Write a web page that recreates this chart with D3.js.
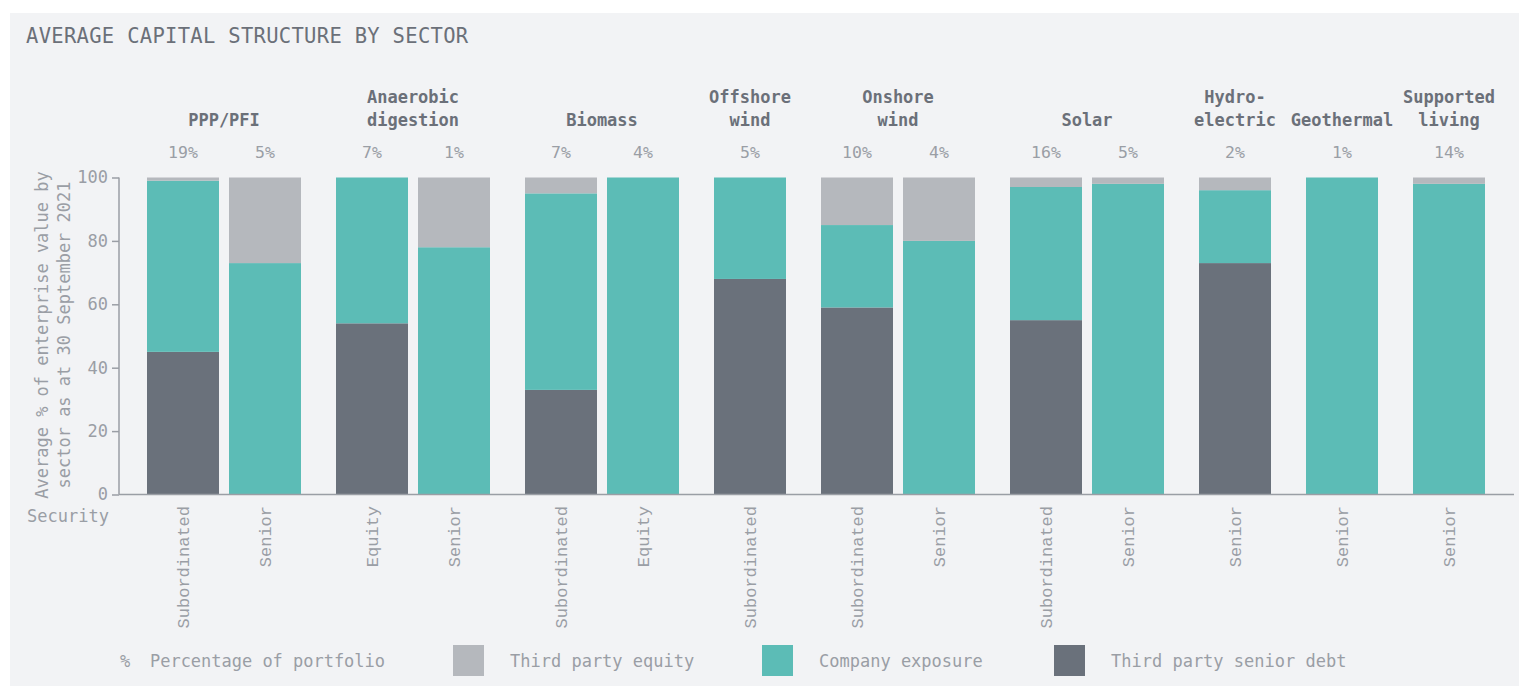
<!DOCTYPE html>
<html>
<head>
<meta charset="utf-8">
<script src="https://cdn.jsdelivr.net/npm/d3@7"></script>
<style>
  body { margin: 0; background: #ffffff; }
  svg { display: block; }
  .title { font-family: "DejaVu Sans Mono", monospace; font-size: 20.5px; fill: #6b7079; letter-spacing: 0.3px; }
  .sector { font-family: "DejaVu Sans Mono", monospace; font-size: 17px; font-weight: bold; fill: #6b7079; }
  .pct { font-family: "DejaVu Sans Mono", monospace; font-size: 16.5px; fill: #9a9ea5; }
  .axis text { font-family: "DejaVu Sans Mono", monospace; font-size: 17px; fill: #9a9ea5; }
  .axis path, .axis line { stroke: #9a9ea5; stroke-width: 1.5; }
  .xlab { font-family: "Liberation Mono", monospace; font-size: 17px; fill: #9a9ea5; }
  .ytitle { font-family: "DejaVu Sans Mono", monospace; font-size: 17px; fill: #9a9ea5; }
  .legend-names { font-family: "DejaVu Sans Mono", monospace; font-size: 17px; fill: #9a9ea5; }
</style>
</head>
<body>
<div id="chart"></div>
<script>
// sectors, with the securities held in each
var sectors = ["PPP/PFI", "Anaerobic digestion", "Biomass", "Offshore wind", "Onshore wind",
    "Solar", "Hydro-electric", "Geothermal", "Supported living"];
var sectorLines = [["PPP/PFI"], ["Anaerobic", "digestion"], ["Biomass"], ["Offshore", "wind"],
    ["Onshore", "wind"], ["Solar"], ["Hydro-", "electric"], ["Geothermal"], ["Supported", "living"]];

var barSector   = [0, 0, 1, 1, 2, 2, 3, 4, 4, 5, 5, 6, 7, 8];
var barSecurity = ["Subordinated", "Senior", "Equity", "Senior", "Subordinated", "Equity", "Subordinated",
    "Subordinated", "Senior", "Subordinated", "Senior", "Senior", "Senior", "Senior"];
var portfolioPct = ["19%", "5%", "7%", "1%", "7%", "4%", "5%", "10%", "4%", "16%", "5%", "2%", "1%", "14%"];

// stacked values, bottom to top
var seniorDebt      = [45,  0, 54,  0, 33,   0, 68, 59,  0, 55,  0, 73,   0,  0];
var companyExposure = [54, 73, 46, 78, 62, 100, 32, 26, 80, 42, 98, 23, 100, 98];
var thirdPartyEquity = [1, 27,  0, 22,  5,   0,  0, 15, 20,  3,  2,  4,   0,  2];

var seriesNames = ["Third party senior debt", "Company exposure", "Third party equity"];
var seriesColor = d3.scaleOrdinal()
    .domain(seriesNames)
    .range(["#6a717b", "#5cbcb6", "#b5b8bd"]);

var yTicks = [0, 20, 40, 60, 80, 100];

var width = 1519, height = 686;
var svg = d3.select("#chart").append("svg")
    .attr("width", width)
    .attr("height", height);

// panel background
svg.append("rect")
    .attr("x", 10).attr("y", 13)
    .attr("width", width - 10).attr("height", height - 13)
    .attr("fill", "#f2f3f5");

svg.append("text")
    .attr("class", "title")
    .attr("x", 26).attr("y", 43)
    .text("AVERAGE CAPITAL STRUCTURE BY SECTOR");

// each bar takes one slot, each sector adds a bit of padding
var slot = 82, groupPad = 25, barWidth = 72;
var rows = barSector.map(function(s, i) {
    return { i: i, sector: s, debt: seniorDebt[i], company: companyExposure[i], equity: thirdPartyEquity[i] };
});

var plotLeft = 129.5;
var totalPx = barSector.length * slot + sectors.length * groupPad;
var x = d3.scaleLinear()
    .domain([0, totalPx])
    .range([plotLeft, plotLeft + totalPx]);

function barX(i) {
    return x(i * slot + barSector[i] * groupPad + groupPad / 2 + (slot - barWidth) / 2);
}

var y = d3.scaleLinear()
    .domain([0, 100])
    .range([494.5, 177.5]);

var stack = d3.stack()
    .keys(["debt", "company", "equity"]);
var stacked = stack(rows);

var layer = svg.selectAll(".layer")
    .data(stacked)
    .enter().append("g")
    .attr("class", "layer")
    .attr("fill", function(d, i) { return seriesColor(seriesNames[i]); });

layer.selectAll("rect")
    .data(function(d) { return d; })
    .enter().append("rect")
    .attr("x", function(d) { return barX(d.data.i); })
    .attr("width", barWidth)
    .attr("y", function(d) { return y(d[1]); })
    .attr("height", function(d) { return y(d[0]) - y(d[1]); });

// axes
var yAxis = svg.append("g")
    .attr("class", "axis")
    .attr("transform", "translate(119,0)")
    .call(d3.axisLeft(y).tickValues(yTicks).tickSize(7).tickPadding(4));
yAxis.select(".domain").attr("d", "M0," + y(0) + "V" + y(100));

svg.append("line")
    .attr("x1", 119).attr("x2", 1514)
    .attr("y1", y(0)).attr("y2", y(0))
    .attr("stroke", "#9a9ea5").attr("stroke-width", 1.5);

svg.append("text")
    .attr("class", "ytitle")
    .attr("transform", "translate(48,335) rotate(-90)")
    .attr("text-anchor", "middle")
    .selectAll("tspan")
    .data(["Average % of enterprise value by", "sector as at 30 September 2021"])
    .enter().append("tspan")
    .attr("x", 0)
    .attr("dy", function(d, i) { return i ? 22 : 0; })
    .text(function(d) { return d; });

svg.append("text")
    .attr("class", "ytitle")
    .attr("x", 27).attr("y", 522)
    .text("Security");

// security labels under each bar
svg.selectAll(".xlab")
    .data(rows)
    .enter().append("text")
    .attr("class", "xlab")
    .attr("text-anchor", "end")
    .attr("transform", function(d) {
        return "translate(" + (barX(d.i) + barWidth / 2 + 6) + ",506) rotate(-90)";
    })
    .text(function(d) { return barSecurity[d.i]; });

// portfolio percentages
svg.selectAll(".pct")
    .data(rows)
    .enter().append("text")
    .attr("class", "pct")
    .attr("text-anchor", "middle")
    .attr("x", function(d) { return barX(d.i) + barWidth / 2; })
    .attr("y", 158)
    .text(function(d) { return portfolioPct[d.i]; });

// sector headings, centred over their bars
var sectorLabel = svg.selectAll(".sector")
    .data(sectors)
    .enter().append("text")
    .attr("class", "sector")
    .attr("text-anchor", "middle")
    .attr("transform", function(d, k) {
        var idx = barSector.map(function(s, i) { return s === k ? i : -1; }).filter(function(i) { return i >= 0; });
        var cx = (barX(idx[0]) + barX(idx[idx.length - 1]) + barWidth) / 2;
        return "translate(" + cx + "," + (126 - (sectorLines[k].length - 1) * 23) + ")";
    });

sectorLabel.selectAll("tspan")
    .data(function(d, k) { return sectorLines[k]; })
    .enter().append("tspan")
    .attr("x", 0)
    .attr("dy", function(d, i) { return i ? 23 : 0; })
    .text(function(d) { return d; });

// legend
svg.append("text")
    .attr("class", "legend-names")
    .attr("x", 120).attr("y", 667)
    .text("%");
svg.append("text")
    .attr("class", "legend-names")
    .attr("x", 150).attr("y", 667)
    .attr("textLength", 235)
    .text("Percentage of portfolio");

var legendItems = ["Third party equity", "Company exposure", "Third party senior debt"];
var legendX = [453, 762, 1054];

var legend = svg.selectAll(".legend")
    .data(legendItems)
    .enter().append("g")
    .attr("class", "legend")
    .attr("transform", function(d, i) { return "translate(" + legendX[i] + ",645)"; });

legend.append("rect")
    .attr("width", 31)
    .attr("height", 31)
    .style("fill", function(d) { return seriesColor(d); });

legend.append("text")
    .attr("class", "legend-names")
    .attr("x", 57)
    .attr("y", 22)
    .text(function(d) { return d; });
</script>
</body>
</html>
